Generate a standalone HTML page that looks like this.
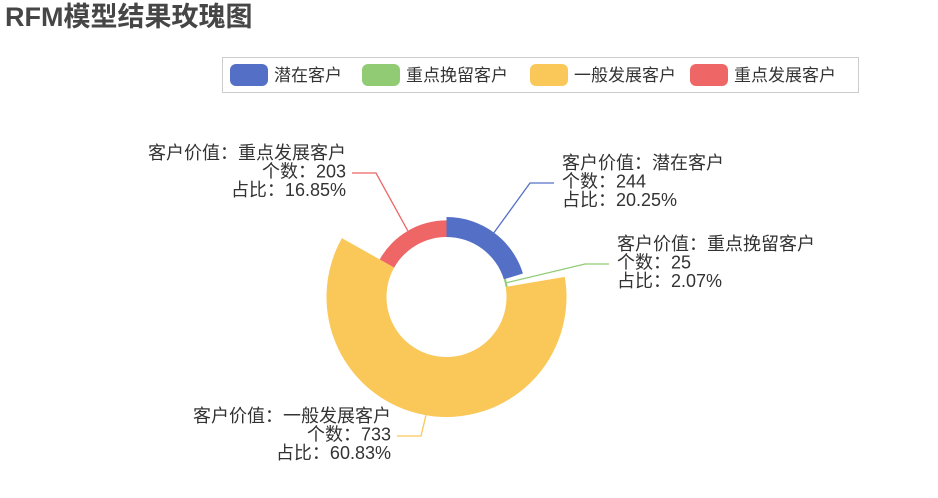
<!DOCTYPE html>
<html><head><meta charset="utf-8"><style>
body{margin:0;background:#fff;width:938px;height:493px;overflow:hidden;font-family:"Liberation Sans","Noto Sans CJK SC",sans-serif}
</style></head><body>
<svg id="chart" width="938" height="493" xmlns="http://www.w3.org/2000/svg" font-family="Liberation Sans, Noto Sans CJK SC, sans-serif">
<text x="5" y="26" font-size="27" font-weight="bold" fill="#464646">RFM模型结果玫瑰图</text>
<g id="legend"><rect x="222.5" y="57.5" width="636" height="35" fill="none" stroke="#ccc"/></g>
<g id="slices"></g><g id="labels"></g>
</svg>
<script>
const categories=["潜在客户","重点挽留客户","一般发展客户","重点发展客户"];
const values=[244,25,733,203];
const percents=["20.25%","2.07%","60.83%","16.85%"];
const colors=["#5470c6","#91cc75","#fac858","#ee6666"];
const NS="http://www.w3.org/2000/svg";
const svg=document.getElementById('chart');
const cx=446.5,cy=297,r0=60,r1=120;
const total=values.reduce((a,b)=>a+b,0),maxV=Math.max(...values);
function mk(t,a,p){const e=document.createElementNS(NS,t);for(const k in a)e.setAttribute(k,a[k]);p.appendChild(e);return e;}
function pt(r,deg){const a=(deg-90)*Math.PI/180;return [cx+r*Math.cos(a),cy+r*Math.sin(a)];}
const lg=document.getElementById('legend');
const lx=[230,362,530,690];
categories.forEach((c,i)=>{
 const rr=mk('rect',{x:lx[i],y:64,width:38,height:22,rx:6,fill:colors[i]},lg);
 
 
 const t=mk('text',{x:lx[i]+44,y:81,'font-size':17,fill:'#333'},lg);t.textContent=c;
 
 
});
const sg=document.getElementById('slices'),lb=document.getElementById('labels');
let ang=0;
const side=[1,1,-1,-1];
values.forEach((v,i)=>{
 const sw=v/total*360,R=r0+(r1-r0)*v/maxV,a0=ang,a1=ang+sw;ang=a1;
 const p0=pt(R,a0),p1=pt(R,a1),q1=pt(r0,a1),q0=pt(r0,a0),lf=sw>180?1:0;
 const p=mk('path',{d:`M${p0[0]},${p0[1]}A${R},${R} 0 ${lf} 1 ${p1[0]},${p1[1]}L${q1[0]},${q1[1]}A${r0},${r0} 0 ${lf} 0 ${q0[0]},${q0[1]}Z`,fill:colors[i]},sg);
 
 
 const mid=(a0+a1)/2,s=pt(R,mid);
 let ex=[530,585,421,376][i],ey=[183,264,436,173][i];
 const tx=side[i]>0?ex+24:ex-24;
 const l=mk('polyline',{points:`${s[0]},${s[1]} ${ex},${ey} ${tx},${ey}`,fill:'none',stroke:colors[i],'stroke-width':1.3},lb);
 
 
 const t=mk('text',{'font-size':18,fill:'#333','text-anchor':side[i]>0?'start':'end'},lb);
 
 
 const x=side[i]>0?tx+8:tx-6,y0=ey-14;
 ['客户价值：'+categories[i],'个数：'+v,'占比：'+percents[i]].forEach((s2,k)=>{const ts=mk('tspan',{x:x,y:y0+k*18.5},t);ts.textContent=s2;});
});
</script>
</body></html>
